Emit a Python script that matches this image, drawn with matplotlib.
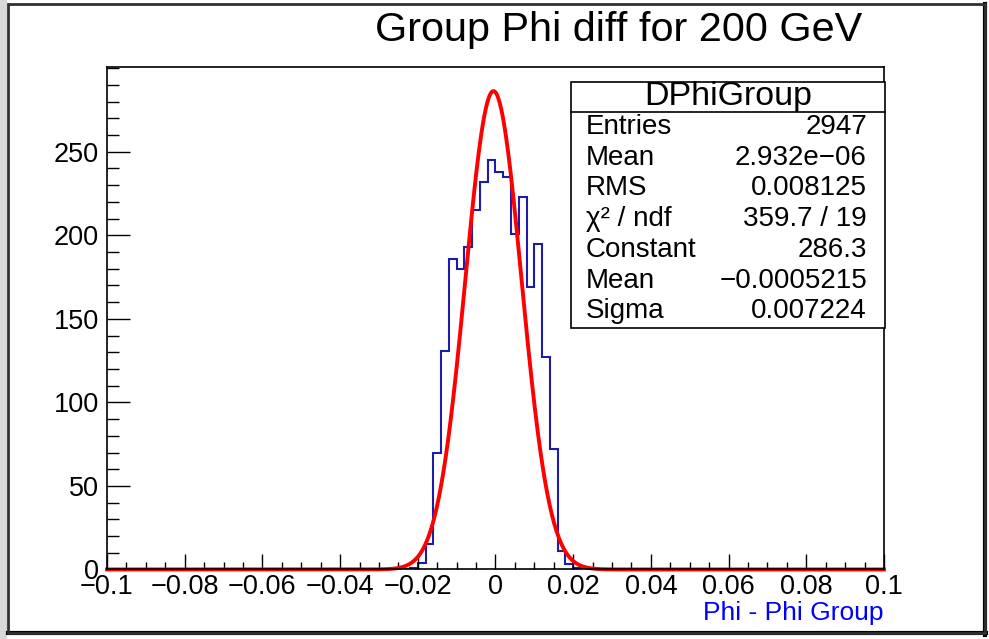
import numpy as np
import matplotlib.pyplot as plt
from matplotlib.patches import Rectangle
from matplotlib.ticker import MultipleLocator

plt.rcParams['font.family'] = ['Liberation Sans', 'DejaVu Sans']

# Histogram: 100 bins from -0.1 to 0.1, non-empty bins start at -0.022
n_bins = 100
x_lo, x_hi = -0.1, 0.1
first_bin_lo = -0.022
bin_counts = [1, 4, 15, 70, 131, 186, 180, 193, 215, 232, 245,
              238, 235, 201, 223, 169, 195, 127, 72, 11, 3, 1]

# Gaussian fit parameters (from stats box)
fit_const = 286.3
fit_mean = -0.0005215
fit_sigma = 0.007224

stat_labels = ["Entries", "Mean", "RMS", "\u03c7\u00b2 / ndf", "Constant", "Mean", "Sigma"]
stat_values = ["2947", "2.932e\u221206", "0.008125", "359.7 / 19", "286.3",
               "\u22120.0005215", "0.007224"]

x_ticks = [-0.1, -0.08, -0.06, -0.04, -0.02, 0, 0.02, 0.04, 0.06, 0.08, 0.1]
x_tick_labels = ["\u22120.1", "\u22120.08", "\u22120.06", "\u22120.04", "\u22120.02", "0",
                 "0.02", "0.04", "0.06", "0.08", "0.1"]
y_ticks = [0, 50, 100, 150, 200, 250]

edges = np.linspace(x_lo, x_hi, n_bins + 1)
counts = np.zeros(n_bins)
i0 = int(round((first_bin_lo - x_lo) / (edges[1] - edges[0])))
counts[i0:i0 + len(bin_counts)] = bin_counts

xf = np.linspace(x_lo, x_hi, 1000)
yf = fit_const * np.exp(-0.5 * ((xf - fit_mean) / fit_sigma) ** 2)

fig = plt.figure(figsize=(9.89, 6.39), dpi=100)
ax = fig.add_axes([0.1082, 0.1088, 0.7856, 0.7863])

ax.stairs(counts, edges, color='#1c1ca8', linewidth=1.5)
ax.plot(xf, yf, color='red', linewidth=2.8, clip_on=False)

ax.set_xlim(x_lo, x_hi)
ax.set_ylim(0, 300.7)
ax.set_xticks(x_ticks)
ax.set_xticklabels(x_tick_labels)
ax.xaxis.set_minor_locator(MultipleLocator(0.005))
ax.set_yticks(y_ticks)
ax.yaxis.set_minor_locator(MultipleLocator(10))
ax.tick_params(axis='x', which='major', direction='in', length=10.8, width=1, labelsize=19.5, pad=3)
ax.tick_params(axis='x', which='minor', direction='in', length=5.4, width=1)
ax.tick_params(axis='y', which='major', direction='in', length=16.6, width=1, labelsize=19.5, pad=6)
ax.tick_params(axis='y', which='minor', direction='in', length=8.3, width=1)
for s in ax.spines.values():
    s.set_linewidth(1.2)

ax.set_xlabel("Phi - Phi Group", color='blue', fontsize=19, loc='right', labelpad=1)

fig.text(0.626, 0.953, "Group Phi diff for 200 GeV", fontsize=29.8, ha='center', va='center')

# stats box
bx0, bx1, by0, by1 = 0.5774, 0.8948, 0.4867, 0.8717
fig.patches.append(Rectangle((bx0, by0), bx1 - bx0, by1 - by0, transform=fig.transFigure,
                             facecolor='white', edgecolor='black', linewidth=1.2, zorder=5))
fig.add_artist(plt.Line2D([bx0, bx1], [0.8247, 0.8247], transform=fig.transFigure,
                          color='black', linewidth=1.2, zorder=6))
fig.text((bx0 + bx1) / 2, 1 - 97 / 639, "DPhiGroup", fontsize=24.5, ha='center', va='center', zorder=7)
row_y = [127, 158, 188, 219, 250, 281, 311]
for lab, val, ry in zip(stat_labels, stat_values, row_y):
    fig.text(586 / 989, 1 - ry / 639, lab, fontsize=20, ha='left', va='center', zorder=7)
    fig.text(867 / 989, 1 - ry / 639, val, fontsize=20, ha='right', va='center', zorder=7)

# canvas border
W, H = 989, 639
fig.patches.append(Rectangle((0, 0), 7 / W, 1, transform=fig.transFigure,
                             facecolor='#d8d8d8', edgecolor='none', zorder=1))
fig.patches.append(Rectangle((8 / W, 6 / H), 977 / W, 629 / H, transform=fig.transFigure,
                             facecolor='none', edgecolor='#303030', linewidth=2, zorder=2))
fig.add_artist(plt.Line2D([985 / W, 985 / W], [4 / H, 635 / H], transform=fig.transFigure,
                          color='black', linewidth=3))
fig.add_artist(plt.Line2D([8 / W, 986 / W], [6 / H, 6 / H], transform=fig.transFigure,
                          color='black', linewidth=3))

fig.savefig("out.png", dpi=100)
